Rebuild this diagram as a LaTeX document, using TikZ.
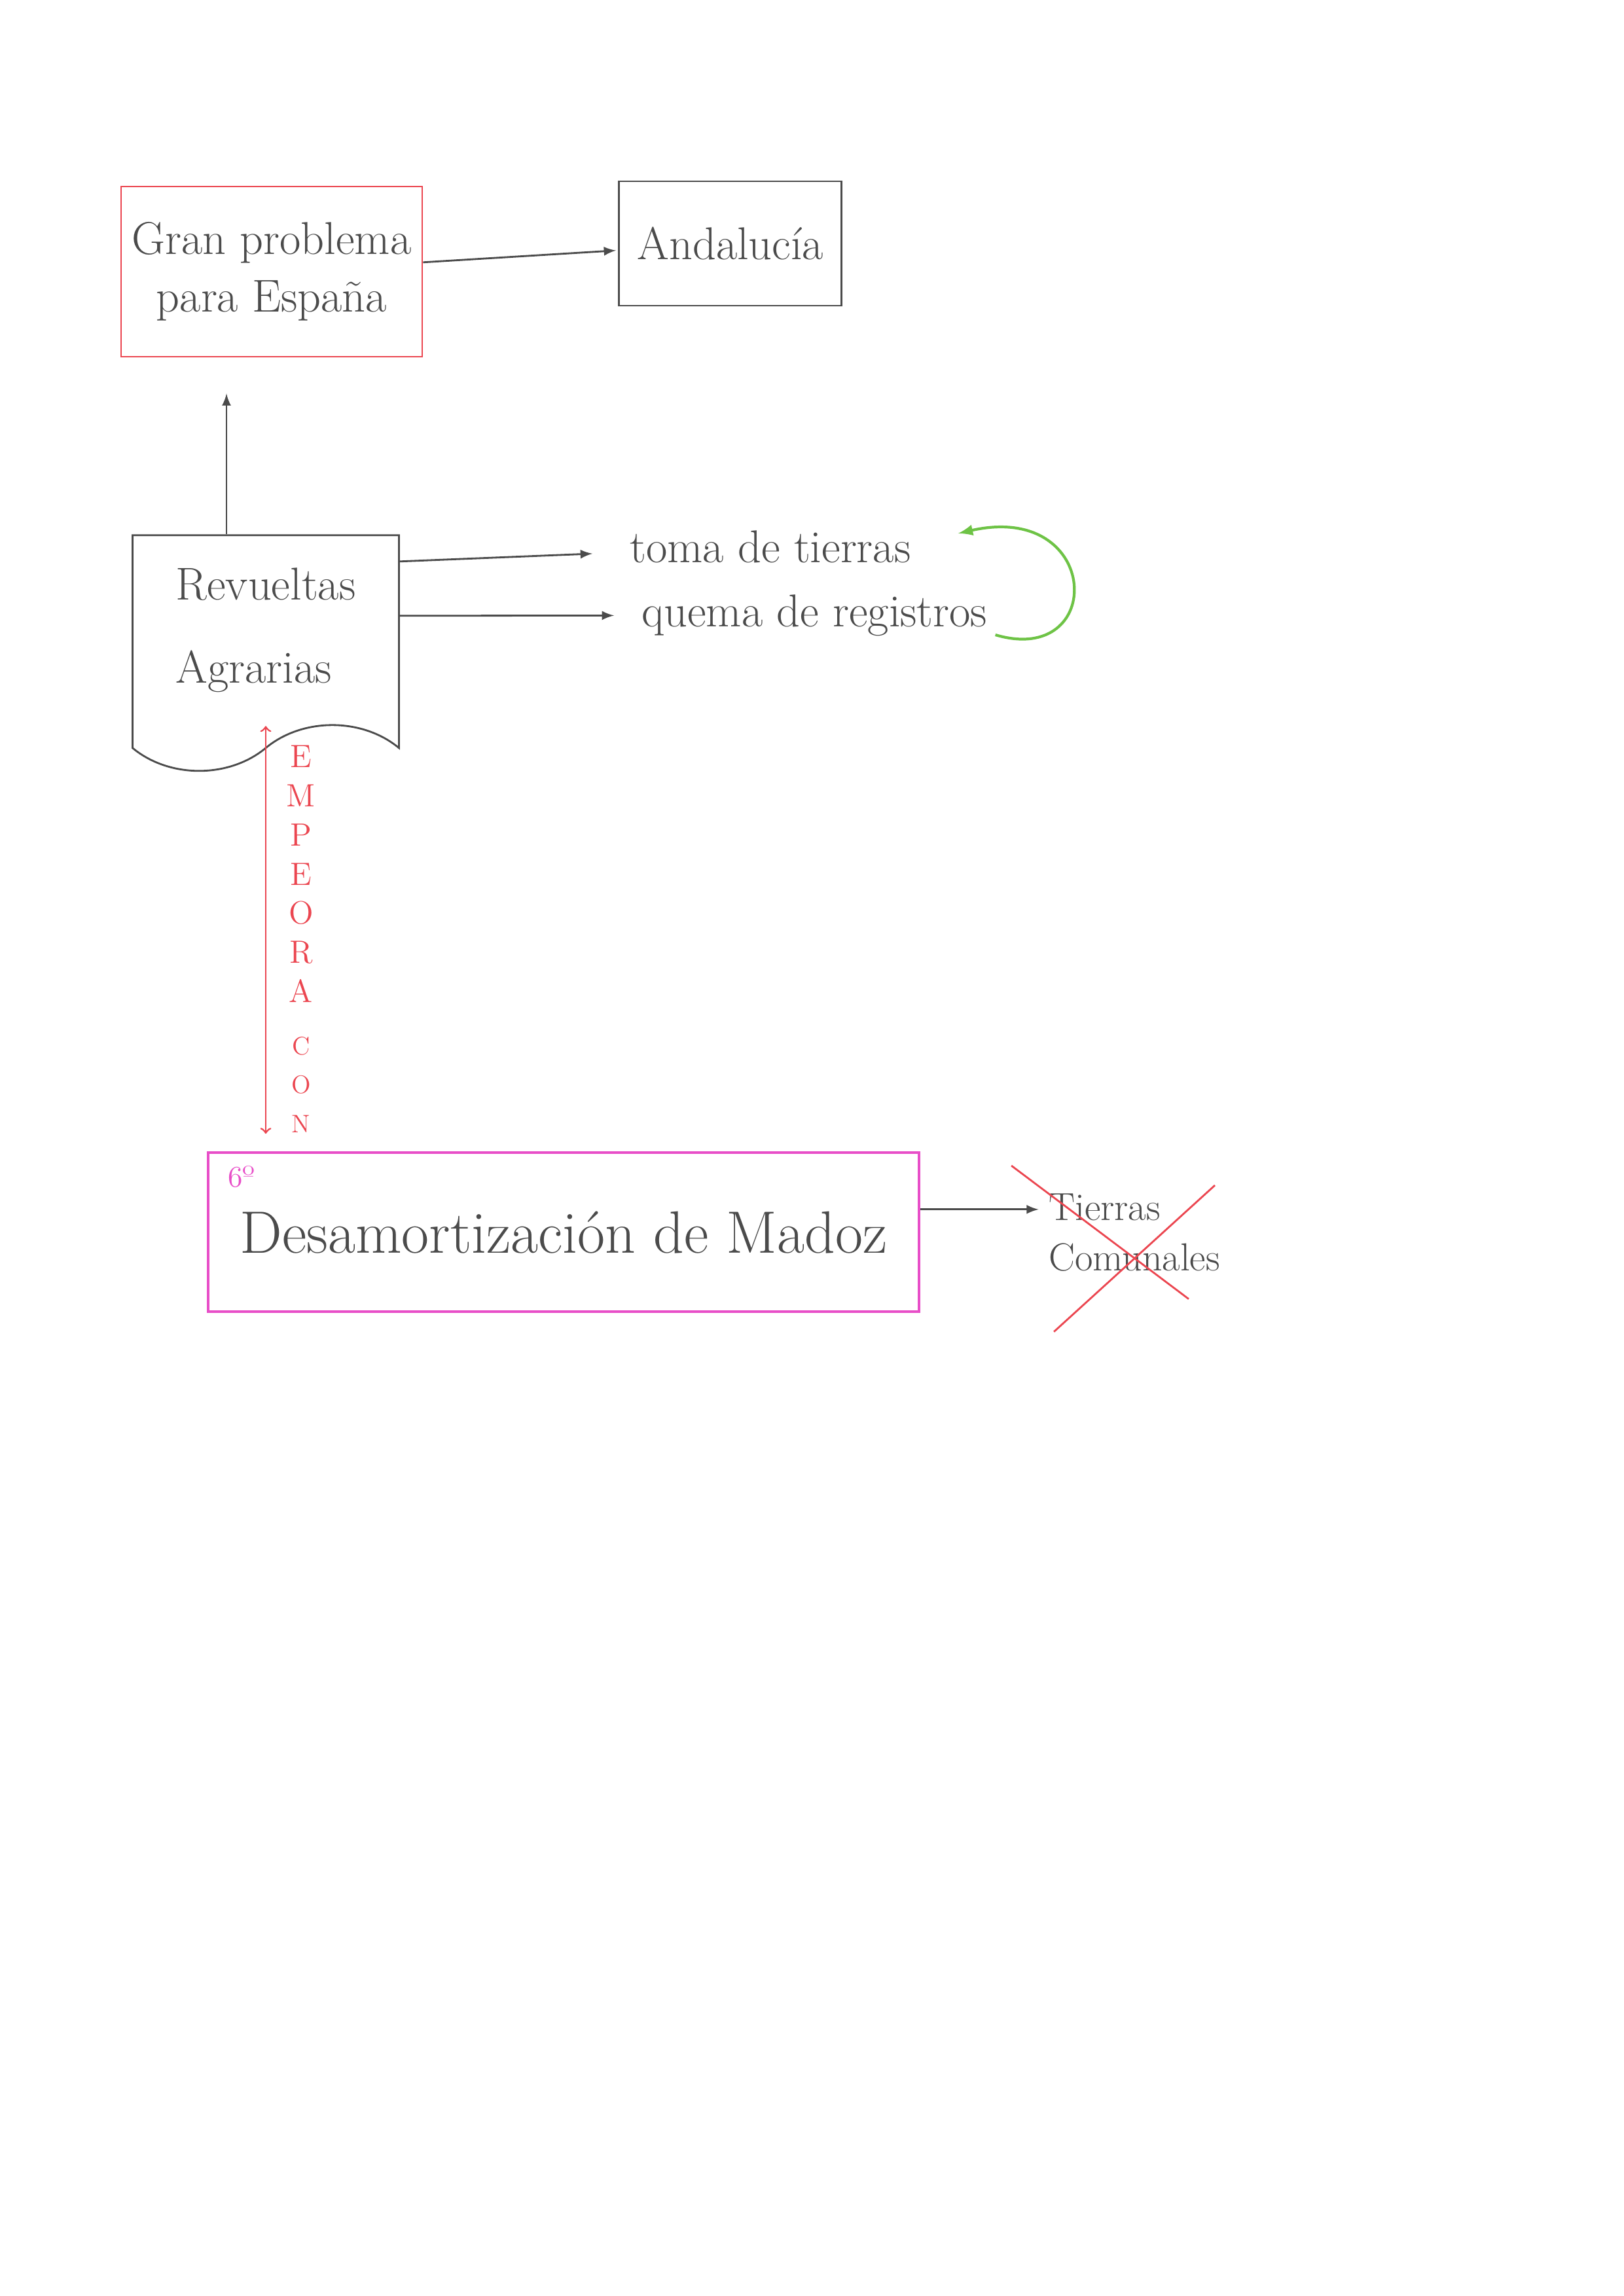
\documentclass[tikz,border=0pt]{standalone}
\usepackage{tikz}
\usetikzlibrary{calc,positioning,arrows,shapes.symbols}

\definecolor{gris}{RGB}{75,75,75}
\definecolor{rojo}{RGB}{235,70,80}
\definecolor{rosa}{RGB}{232,78,200}
\definecolor{verde}{RGB}{110,195,70}

\begin{document}
\begin{tikzpicture}
[node distance = 1cm, auto,
every node/.style={text=gris, font=\fontsize{20}{25}\selectfont},
problema/.style={rectangle, draw=rojo, thick, align=center,
minimum width=4.6cm, minimum height=2.6cm},
lugar/.style={rectangle, draw=gris, thick,
minimum width=3.4cm, minimum height=1.9cm},
revuelta/.style={tape, tape bend top=none, tape bend bottom=in and out,
tape bend height=0.7cm, draw=gris, thick, align=left,
minimum width=4.07cm, minimum height=3.6cm},
ley/.style={rectangle, draw=rosa, very thick,
minimum width=10.86cm, minimum height=2.43cm,
font=\fontsize{26}{30}\selectfont},
nota/.style={anchor=west, align=left},
flecha/.style={->, >=latex, thick, draw=gris, shorten >=1pt},
empeora/.style={<->, >=to, thick, draw=rojo},
vuelta/.style={->, >=latex, very thick, draw=verde},
tachado/.style={thick, draw=rojo}]

\useasboundingbox (0,0) rectangle (24.8,-35.08);

% Cajas
\node [problema] (gran) at (4.15,-4.15) {Gran problema\\para España};
\node [lugar, right=2.98cm of gran, yshift=0.43cm] (andalucia) {Andalucía};
\node [revuelta, below=2.7cm of gran, xshift=-0.09cm] (revueltas) {Revueltas\\[4mm]Agrarias};
\node [nota] (toma) at (9.5,-8.35) {toma de tierras};
\node [nota] (quema) at (9.68,-9.4) {quema de registros};
\node [ley, below=6.5cm of revueltas, xshift=4.55cm] (madoz) {Desamortización de Madoz};
\node [nota, right=1.84cm of madoz, font=\fontsize{17}{22}\selectfont] (tierras) {Tierras\\Comunales};
\node [anchor=north west, text=rosa, font=\fontsize{13}{15}\selectfont]
(orden) at ([shift={(0.2cm,-0.1cm)}]madoz.north west) {6º};
\node [text=rojo, align=center, font=\fontsize{14}{17}\selectfont]
(texto) at (4.6,-14.35) {E\\M\\P\\E\\O\\R\\A\\[2mm]{\fontsize{11}{13}\selectfont C}\\{\fontsize{11}{13}\selectfont O}\\{\fontsize{11}{13}\selectfont N}};

% Flechas
\draw [flecha] (gran) -- (andalucia);
\draw [flecha, shorten >=0.55cm] ([xshift=-0.6cm]revueltas.north) -- ([xshift=-0.6cm]revueltas.north |- gran.south);
\draw [flecha, shorten >=0.45cm] ([yshift=1.05cm]revueltas.east) -- (toma);
\draw [flecha, shorten >=0.3cm] ([yshift=0.22cm]revueltas.east) -- (quema);
\draw [vuelta] ([yshift=-0.3cm]quema.east) .. controls +(1.7,-0.5) and +(2.2,0.5) .. ([xshift=0.6cm,yshift=0.2cm]toma.east);
\draw [empeora, shorten >=0.27cm] (revueltas.south) -- (revueltas.south |- madoz.north);
\draw [flecha] ([yshift=0.35cm]madoz.east) -- ([yshift=0.35cm]tierras.west);
\draw [tachado] ([shift={(-0.45cm,0.3cm)}]tierras.north west) -- ([shift={(-0.6cm,-0.3cm)}]tierras.south east);
\draw [tachado] ([shift={(-0.2cm,0cm)}]tierras.north east) -- ([shift={(0.2cm,-0.8cm)}]tierras.south west);

\end{tikzpicture}
\end{document}
